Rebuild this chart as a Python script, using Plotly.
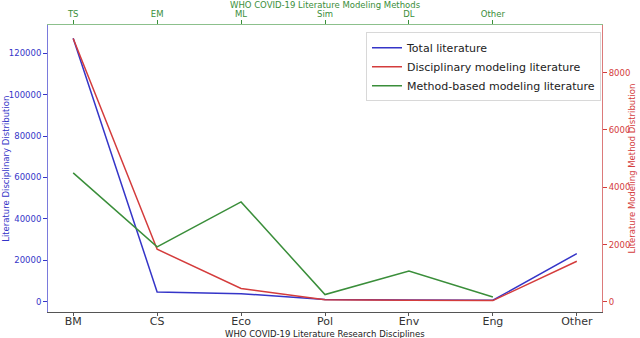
import plotly.graph_objects as go

disciplines = ["BM", "CS", "Eco", "Pol", "Env", "Eng", "Other"]
total_lit = [127300, 4650, 3850, 1000, 800, 650, 23200]
disc_model_lit = [9190, 1840, 470, 75, 60, 50, 1420]

methods = ["TS", "EM", "ML", "Sim", "DL", "Other"]
method_model_lit = [4500, 1920, 3490, 258, 1080, 175]

BLUE = "#3535c8"
RED = "#d43c3c"
GREEN = "#3a8e3a"
FONT = "DejaVu Sans"

fig = go.Figure()
fig.add_trace(go.Scatter(x=disciplines, y=total_lit, mode="lines",
                         name="Total literature",
                         line=dict(color=BLUE, width=1.5),
                         xaxis="x", yaxis="y"))
fig.add_trace(go.Scatter(x=disciplines, y=disc_model_lit, mode="lines",
                         name="Disciplinary modeling literature",
                         line=dict(color=RED, width=1.5),
                         xaxis="x", yaxis="y2"))
fig.add_trace(go.Scatter(x=methods, y=method_model_lit, mode="lines",
                         name="Method-based modeling literature",
                         line=dict(color=GREEN, width=1.5),
                         xaxis="x2", yaxis="y2"))

fig.update_layout(
    width=640, height=338,
    margin=dict(l=48, r=38, t=25, b=26),
    paper_bgcolor="white", plot_bgcolor="white",
    font=dict(family=FONT, size=9, color="#333"),
    showlegend=True,
    legend=dict(x=0.574, y=0.975, xanchor="left", yanchor="top",
                bgcolor="white", bordercolor="#d8d8d8", borderwidth=1,
                font=dict(size=11, color="#222")),
    xaxis=dict(type="category", range=[-0.3, 6.3], showgrid=False,
               showline=True, linecolor="#555", linewidth=1,
               ticks="outside", ticklen=3, tickcolor="#555",
               ticklabelstandoff=-4,
               tickfont=dict(size=11, color="#333"), automargin=False),
    xaxis2=dict(type="category", range=[-0.3, 6.3], overlaying="x",
                side="top", showgrid=False, showline=True,
                linecolor="#8cc08c", linewidth=1, ticks="outside",
                ticklen=4, tickcolor=GREEN,
                tickfont=dict(size=8.5, color=GREEN), automargin=False),
    yaxis=dict(range=[-5030, 133690], showgrid=False, zeroline=False,
               showline=True, linecolor="#7a7adc", linewidth=1,
               ticks="outside", ticklen=4, tickcolor=BLUE, tickformat="d",
               tickvals=[0, 20000, 40000, 60000, 80000, 100000, 120000],
               tickfont=dict(size=8.5, color=BLUE), automargin=False),
    yaxis2=dict(range=[-349, 9658], overlaying="y", side="right",
                showgrid=False, zeroline=False, showline=True,
                linecolor="#dc7a7a", linewidth=1, ticks="outside",
                ticklen=4, tickcolor=RED, tickformat="d",
                tickvals=[0, 2000, 4000, 6000, 8000],
                tickfont=dict(size=8.5, color=RED), automargin=False),
)

fig.add_annotation(text="WHO COVID-19 Literature Research Disciplines",
                   xref="paper", yref="paper", x=0.5, y=-0.076,
                   xanchor="center", yanchor="middle", showarrow=False,
                   font=dict(size=8.5, color="#222"))
fig.add_annotation(text="WHO COVID-19 Literature Modeling Methods",
                   xref="paper", yref="paper", x=0.5, y=1.068,
                   xanchor="center", yanchor="middle", showarrow=False,
                   font=dict(size=8.5, color=GREEN))
fig.add_annotation(text="Literature Disciplinary Distribution",
                   xref="paper", yref="paper", x=-0.077, y=0.5,
                   xanchor="center", yanchor="middle", showarrow=False,
                   textangle=-90, font=dict(size=8.5, color=BLUE))
fig.add_annotation(text="Literature Modeling Method Distribution",
                   xref="paper", yref="paper", x=1.054, y=0.5,
                   xanchor="center", yanchor="middle", showarrow=False,
                   textangle=-90, font=dict(size=8.5, color=RED))

# drop the browser's default body margin so the figure sits at the corner
fig.write_html("out.html", config={"displayModeBar": False},
               post_script="document.body.style.margin='0';")
